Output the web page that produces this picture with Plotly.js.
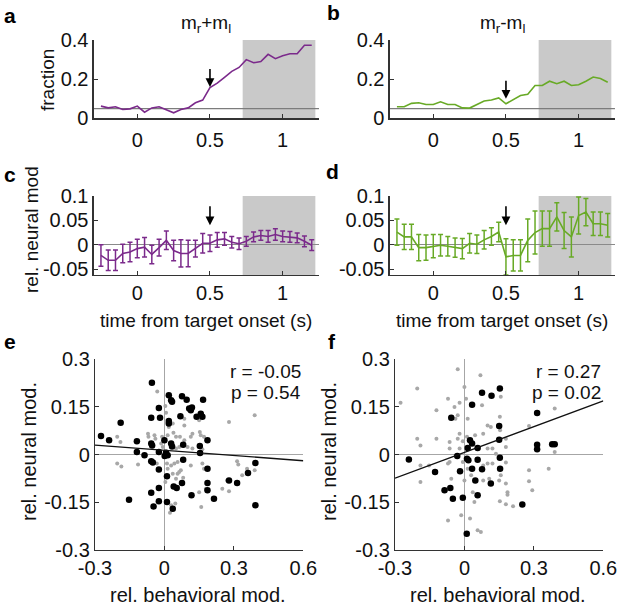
<!DOCTYPE html>
<html>
<head>
<meta charset="utf-8">
<script src="https://cdn.plot.ly/plotly-3.0.1.min.js"></script>
<style>
  html, body { margin: 0; padding: 0; background: #fff; }
  #fig { width: 620px; height: 607px; }
</style>
</head>
<body>
<div id="fig"></div>
<script>
// time bins (s from target onset)
var timeBins = [-0.25, -0.2, -0.15, -0.1, -0.05, 0, 0.05, 0.1, 0.15, 0.2,
                0.25, 0.3, 0.35, 0.4, 0.45, 0.5, 0.55, 0.6, 0.65, 0.7,
                0.75, 0.8, 0.85, 0.9, 0.95, 1.0, 1.05, 1.1, 1.15, 1.2];

// a: fraction of cells, m_r + m_l
var fracSum = [0.063, 0.054, 0.06, 0.046, 0.049, 0.063, 0.032, 0.054, 0.06, 0.046,
               0.029, 0.046, 0.054, 0.08, 0.094, 0.157, 0.18, 0.21, 0.24, 0.26,
               0.30, 0.284, 0.29, 0.327, 0.305, 0.32, 0.33, 0.33, 0.373, 0.373];
// b: fraction of cells, m_r - m_l
var fracDiff = [0.06, 0.06, 0.077, 0.08, 0.071, 0.071, 0.085, 0.071, 0.071, 0.054,
                0.053, 0.071, 0.089, 0.094, 0.105, 0.075, 0.097, 0.117, 0.123, 0.168,
                0.168, 0.19, 0.177, 0.19, 0.168, 0.172, 0.19, 0.211, 0.204, 0.185];

// c: rel. neural mod, m_r + m_l (mean, sem)
var modSum = [-0.022, -0.032, -0.032, -0.018, -0.015, -0.008, -0.005, -0.02, -0.006, 0.009,
              -0.012, -0.018, -0.018, -0.008, 0.003, 0.003, 0.01, 0.012, 0.005, 0.002,
              0.007, 0.016, 0.019, 0.017, 0.021, 0.017, 0.016, 0.014, 0.007, -0.001];
var modSumErr = [0.022, 0.021, 0.021, 0.019, 0.02, 0.019, 0.02, 0.019, 0.017, 0.019,
                 0.021, 0.028, 0.027, 0.017, 0.02, 0.017, 0.015, 0.013, 0.012, 0.012,
                 0.01, 0.01, 0.01, 0.012, 0.012, 0.011, 0.011, 0.01, 0.011, 0.011];
// d: rel. neural mod, m_r - m_l
var modDiff = [0.026, 0.016, 0.016, -0.006, -0.006, -0.003, -0.001, -0.003, -0.006, -0.008,
               0.003, 0.001, 0.01, 0.017, 0.026, -0.025, -0.022, -0.022, 0.009, 0.025,
               0.033, 0.033, 0.057, 0.029, 0.016, 0.06, 0.067, 0.043, 0.043, 0.04];
var modDiffErr = [0.027, 0.026, 0.026, 0.027, 0.026, 0.024, 0.022, 0.02, 0.02, 0.021,
                  0.02, 0.019, 0.019, 0.018, 0.02, 0.037, 0.032, 0.032, 0.044, 0.044,
                  0.036, 0.036, 0.029, 0.037, 0.041, 0.038, 0.028, 0.024, 0.024, 0.024];

var chanceLevel = 0.05;
var responseWindow = [0.725, 1.225];
var arrowTime = 0.5;
var arrowTopA = [0.26, 0.16], arrowTopB = [0.2, 0.1], arrowTopCD = [0.082, 0.04];

// e: scatter, m_r + m_l
var eSigX = [-0.054, 0.019, 0.029, 0.033, 0.076, 0.096, 0.167, -0.024, -0.057, -0.019,
             0.019, 0.019, 0.069, 0.107, 0.119, 0.114, 0.139, 0.164, 0.157, -0.189,
             -0.274, -0.239, -0.119, -0.057, -0.053, 0.0, 0.029, 0.033, 0.081, 0.186,
             0.153, -0.119, -0.086, -0.024, 0.007, 0.001, 0.014, 0.154, -0.057, -0.05,
             0.081, -0.024, 0.186, 0.393, 0.011, 0.361, 0.186, 0.279, 0.314, 0.076,
             0.053, 0.04, -0.024, 0.186, -0.057, 0.117, 0.214, -0.153, -0.024, 0.011,
             -0.047, 0.036, 0.393];
var eSigY = [0.226, 0.187, 0.171, 0.166, 0.184, 0.173, 0.173, 0.147, 0.116, 0.116,
             0.106, 0.098, 0.121, 0.145, 0.148, 0.14, 0.119, 0.119, 0.129, 0.1,
             0.059, 0.045, 0.042, 0.035, 0.029, 0.045, 0.035, 0.026, 0.031, 0.045,
             0.027, 0.008, -0.002, 0.008, 0.006, -0.004, -0.002, 0.005, -0.021, -0.025,
             -0.016, -0.047, -0.044, -0.026, -0.068, -0.058, -0.089, -0.081, -0.089, -0.089,
             -0.105, -0.1, -0.105, -0.112, -0.12, -0.128, -0.139, -0.142, -0.147, -0.149,
             -0.163, -0.17, -0.159];
var eNsX = [-0.031, 0.004, 0.007, 0.019, 0.036, 0.086, 0.086, 0.15, 0.279, 0.39,
            -0.204, -0.19, -0.071, -0.069, -0.043, -0.039, -0.01, 0.014, 0.039, 0.05,
            0.067, 0.086, 0.114, 0.121, 0.153, 0.157, 0.171, -0.014, -0.007, 0.05,
            0.064, 0.1, 0.121, 0.164, -0.204, -0.186, -0.114, -0.033, 0.011, 0.029,
            0.043, 0.057, 0.071, 0.064, 0.036, 0.057, 0.014, 0.114, 0.164, 0.171,
            0.314, 0.319, 0.39, 0.004, 0.05, 0.081, 0.25, 0.279, 0.15, 0.179,
            0.029, 0.024, 0.159, 0.047, 0.357, 0.271, 0.336];
var eNsY = [0.199, 0.153, 0.132, 0.087, 0.098, 0.113, 0.092, 0.108, 0.103, 0.124,
            0.056, 0.04, 0.066, 0.056, 0.061, 0.05, 0.056, 0.061, 0.069, 0.056,
            0.056, 0.045, 0.056, 0.066, 0.071, 0.061, 0.056, 0.035, 0.024, 0.019,
            0.024, 0.024, 0.019, 0.017, -0.028, -0.037, -0.031, -0.028, -0.028, -0.034,
            -0.028, -0.023, -0.049, -0.055, -0.06, -0.06, -0.044, -0.034, -0.028, -0.044,
            -0.021, -0.031, -0.049, -0.086, -0.076, -0.073, -0.107, -0.115, -0.118, -0.107,
            -0.159, -0.183, -0.165, -0.154, -0.044, -0.081, -0.065];
var eFitX = [-0.3, 0.6], eFitY = [0.03, -0.019];

// f: scatter, m_r - m_l
var fSigX = [0.153, 0.076, 0.117, 0.033, 0.314, -0.057, 0.15, 0.15, 0.024, 0.033,
             0.057, 0.014, 0.314, 0.314, 0.379, 0.39, -0.24, -0.031, 0.011, 0.017,
             0.057, 0.153, -0.127, -0.019, 0.033, 0.076, 0.154, 0.047, 0.114, -0.086,
             -0.061, -0.05, -0.007, 0.057, 0.25, 0.01];
var fSigY = [0.208, 0.195, 0.185, 0.157, 0.131, 0.116, 0.09, 0.047, 0.045, 0.035,
             0.021, 0.021, 0.031, 0.017, 0.033, 0.033, -0.015, -0.004, -0.013, -0.018,
             -0.016, -0.01, -0.055, -0.052, -0.044, -0.046, -0.044, -0.081, -0.091, -0.112,
             -0.105, -0.139, -0.136, -0.128, -0.157, -0.249];
var fNsX = [-0.029, 0.069, -0.204, -0.276, -0.071, -0.021, -0.043, -0.121, 0.0, 0.007,
            0.014, -0.029, -0.039, 0.076, 0.1, 0.114, 0.154, 0.081, 0.046, 0.011,
            -0.021, -0.029, -0.007, -0.064, -0.121, -0.204, -0.19, -0.064, -0.021, 0.1,
            0.121, 0.136, 0.179, 0.179, 0.153, 0.279, 0.39, 0.39, -0.19, -0.153,
            -0.071, -0.064, -0.007, 0.014, 0.029, 0.081, 0.1, 0.121, 0.179, 0.279,
            0.364, -0.19, -0.057, 0.0, 0.081, 0.107, 0.15, 0.157, 0.179, 0.279,
            0.293, 0.186, 0.186, 0.036, 0.043, 0.153, 0.21, 0.179, -0.071, -0.014,
            0.024, 0.057, 0.071, 0.157];
var fNsY = [0.269, 0.25, 0.208, 0.163, 0.176, 0.163, 0.15, 0.14, 0.213, 0.176,
            0.113, 0.124, 0.113, 0.155, 0.092, 0.087, 0.077, 0.066, 0.061, 0.056,
            0.066, 0.05, 0.042, 0.04, 0.05, 0.05, 0.029, 0.019, 0.019, 0.019,
            0.019, 0.003, 0.05, 0.024, 0.119, 0.09, 0.145, 0.008, -0.034, -0.034,
            -0.028, -0.023, -0.023, -0.044, -0.065, -0.034, -0.028, -0.028, -0.025, -0.049,
            -0.044, -0.086, -0.076, -0.081, -0.081, -0.076, -0.081, -0.065, -0.091, -0.084,
            -0.112, -0.118, -0.126, -0.118, -0.149, -0.147, -0.162, -0.156, -0.207, -0.191,
            -0.201, -0.238, -0.243, 0.182];
var fFitX = [-0.3, 0.6], fFitY = [-0.074, 0.169];

var purple = '#7b2a8b';
var green = '#68aa26';
var FONT = 'Liberation Sans, Arial, Helvetica, sans-serif';
var tRange = [-0.3, 1.25];

function lineTrace(x, y, color, xa, ya, err) {
    var t = {
        x: x, y: y, type: 'scatter', mode: 'lines',
        line: {color: color, width: 1.6},
        xaxis: xa, yaxis: ya, hoverinfo: 'skip'
    };
    if (err) {
        t.error_y = {type: 'data', array: err, visible: true, color: color, thickness: 1.5, width: 2.5};
    }
    return t;
}
function chance(xa, ya) {
    return {x: tRange, y: [chanceLevel, chanceLevel], type: 'scatter', mode: 'lines',
            line: {color: '#7c7c7c', width: 1.2}, xaxis: xa, yaxis: ya, hoverinfo: 'skip'};
}
function dots(x, y, color, size, xa, ya) {
    return {x: x, y: y, type: 'scatter', mode: 'markers',
            marker: {color: color, size: size}, xaxis: xa, yaxis: ya, hoverinfo: 'skip'};
}

var data = [
    chance('x', 'y'),
    lineTrace(timeBins, fracSum, purple, 'x', 'y'),
    chance('x2', 'y2'),
    lineTrace(timeBins, fracDiff, green, 'x2', 'y2'),
    lineTrace(timeBins, modSum, purple, 'x3', 'y3', modSumErr),
    lineTrace(timeBins, modDiff, green, 'x4', 'y4', modDiffErr),
    dots(eNsX, eNsY, '#a8a8a8', 4, 'x5', 'y5'),
    dots(eSigX, eSigY, '#000', 6.5, 'x5', 'y5'),
    {x: eFitX, y: eFitY, type: 'scatter', mode: 'lines', line: {color: '#111', width: 1.4}, xaxis: 'x5', yaxis: 'y5'},
    dots(fNsX, fNsY, '#a8a8a8', 4, 'x6', 'y6'),
    dots(fSigX, fSigY, '#000', 6.5, 'x6', 'y6'),
    {x: fFitX, y: fFitY, type: 'scatter', mode: 'lines', line: {color: '#111', width: 1.4}, xaxis: 'x6', yaxis: 'y6'}
];

function axis(domain, range, vals, texts, anchor, extra) {
    var a = {
        domain: domain, range: range, anchor: anchor,
        tickvals: vals, ticktext: texts,
        showgrid: false, zeroline: false,
        showline: true, linecolor: '#333', linewidth: 1.2,
        ticks: 'inside', ticklen: 4, tickcolor: '#333',
        tickfont: {family: FONT, size: 20, color: '#111'},
        fixedrange: true
    };
    for (var k in extra) a[k] = extra[k];
    return a;
}

var tX = [0, 0.5, 1], tXt = ['0', '0.5', '1'];
var fracTick = [0, 0.2, 0.4], fracTickT = ['0', '0.2', '0.4'];
var modTick = [-0.05, 0, 0.05, 0.1], modTickT = ['-0.05', '0', '0.05', '0.1'];
var scX = [-0.3, 0, 0.3, 0.6], scXt = ['-0.3', '0', '0.3', '0.6'];
var scY = [-0.3, -0.15, 0, 0.15, 0.3], scYt = ['-0.3', '-0.15', '0', '0.15', '0.3'];
var zl = {zeroline: true, zerolinecolor: '#a6a6a6', zerolinewidth: 1.5};
var zlDark = {zeroline: true, zerolinecolor: '#8a8a8a', zerolinewidth: 1.5};

var dA = [0.8048, 0.9341], dC = [0.5471, 0.6771], dE = [0.0939, 0.4081];
var colL = [0.1511, 0.5145], colR = [0.6285, 0.9919];

var layout = {
    width: 620, height: 607,
    margin: {l: 0, r: 0, t: 0, b: 0},
    paper_bgcolor: '#fff', plot_bgcolor: '#fff',
    showlegend: false,
    font: {family: FONT, color: '#111'},
    xaxis: axis(colL, tRange, tX, tXt, 'y', {ticklabelstandoff: 3}),
    yaxis: axis(dA, [0, 0.4], fracTick, fracTickT, 'x'),
    xaxis2: axis(colR, tRange, tX, tXt, 'y2', {ticklabelstandoff: 3}),
    yaxis2: axis(dA, [0, 0.4], fracTick, fracTickT, 'x2'),
    xaxis3: axis(colL, tRange, tX, tXt, 'y3'),
    yaxis3: axis(dC, [-0.062, 0.1], modTick, modTickT, 'x3', zlDark),
    xaxis4: axis(colR, tRange, tX, tXt, 'y4'),
    yaxis4: axis(dC, [-0.062, 0.1], modTick, modTickT, 'x4', zlDark),
    xaxis5: axis([0.1532, 0.4892], [-0.3, 0.6], scX, scXt, 'y5', zl),
    yaxis5: axis(dE, [-0.3, 0.3], scY, scYt, 'x5', zl),
    xaxis6: axis([0.6371, 0.9731], [-0.3, 0.6], scX, scXt, 'y6', zl),
    yaxis6: axis(dE, [-0.3, 0.3], scY, scYt, 'x6', zl),
    shapes: [],
    annotations: []
};

// response window boxes
[['x', 'y'], ['x2', 'y2'], ['x3', 'y3'], ['x4', 'y4']].forEach(function (p) {
    layout.shapes.push({type: 'rect', xref: p[0], yref: p[1] + ' domain',
        x0: responseWindow[0], x1: responseWindow[1], y0: 0, y1: 1,
        fillcolor: '#c9c9c9', line: {width: 0}, layer: 'below'});
});

// arrows at the time marker
function arrow(xa, ya, yy) {
    return {x: arrowTime, y: yy[1], ax: arrowTime, ay: yy[0], xref: xa, yref: ya,
            axref: xa, ayref: ya, showarrow: true, arrowhead: 2, arrowsize: 1.1,
            arrowwidth: 1.6, arrowcolor: '#000', text: ''};
}
layout.annotations.push(arrow('x', 'y', arrowTopA), arrow('x2', 'y2', arrowTopB),
                        arrow('x3', 'y3', arrowTopCD), arrow('x4', 'y4', arrowTopCD));

// text placed in pixel positions of the figure
function txt(xpx, ypx, s, opts) {
    var a = {x: xpx / 620, y: 1 - ypx / 607, xref: 'paper', yref: 'paper', text: s, showarrow: false,
             font: {family: FONT, size: 19, color: '#111'}, xanchor: 'center', yanchor: 'middle'};
    for (var k in opts) a[k] = opts[k];
    return a;
}
function letter(xpx, ypx, s) {
    return txt(xpx, ypx, '<b>' + s + '</b>', {xanchor: 'left', font: {family: FONT, size: 21, color: '#000'}});
}
var vert = {textangle: -90};
var big = {font: {family: FONT, size: 20, color: '#111'}};
var bigVert = {textangle: -90, font: {family: FONT, size: 20, color: '#111'}};
layout.annotations.push(
    letter(2, 15, 'a'), letter(325, 13, 'b'), letter(2, 174, 'c'),
    letter(324, 171, 'd'), letter(2, 341, 'e'), letter(326, 341, 'f'),
    txt(206, 24, 'm<sub>r</sub>+m<sub>l</sub>'),
    txt(502, 24, 'm<sub>r</sub>-m<sub>l</sub>'),
    txt(48, 80, 'fraction', vert),
    txt(32, 230, 'rel. neural mod', vert),
    txt(206, 320, 'time from target onset (s)'),
    txt(502, 320, 'time from target onset (s)'),
    txt(29, 452, 'rel. neural mod.', bigVert),
    txt(329, 452, 'rel. neural mod.', bigVert),
    txt(198, 595, 'rel. behavioral mod.', big),
    txt(498, 595, 'rel. behavioral mod.', big)
);
// correlation stats
[['x5', 'y5', 'r = -0.05', 'p = 0.54'], ['x6', 'y6', 'r = 0.27', 'p = 0.02']].forEach(function (p) {
    layout.annotations.push(
        {x: 0.6, y: 0.26, xref: p[0], yref: p[1], text: p[2], showarrow: false, xanchor: 'right',
         yanchor: 'middle', font: {family: FONT, size: 19, color: '#111'}},
        {x: 0.6, y: 0.194, xref: p[0], yref: p[1], text: p[3], showarrow: false, xanchor: 'right',
         yanchor: 'middle', font: {family: FONT, size: 19, color: '#111'}});
});

Plotly.newPlot('fig', data, layout, {staticPlot: true, displayModeBar: false});
</script>
</body>
</html>
